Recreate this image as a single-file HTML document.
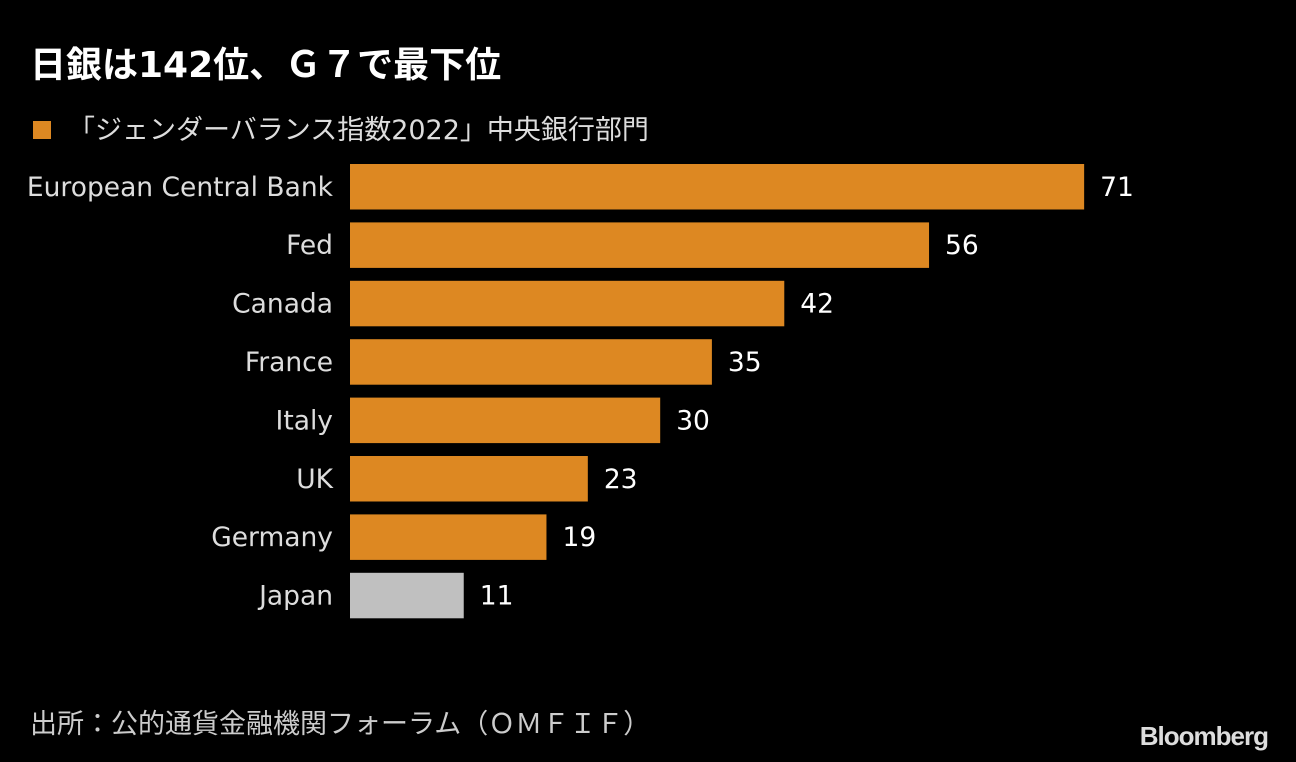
<!DOCTYPE html>
<html><head><meta charset="utf-8">
<style>
body{margin:0;background:#000;width:1296px;height:762px;overflow:hidden;font-family:"DejaVu Sans","Noto Sans CJK JP",sans-serif;}
#c{position:absolute;left:0;top:0;}
</style></head><body>
<svg id="c" width="1296" height="762">
<text x="30" y="77" fill="#fff" font-size="36" font-weight="bold" font-family="DejaVu Sans,Noto Sans CJK JP,sans-serif">日銀は142位、Ｇ７で最下位</text>
<rect x="33" y="121" width="18" height="18" fill="#DD8822"/>
<text x="68" y="139" fill="#ddd" font-size="27" font-family="DejaVu Sans,Noto Sans CJK JP,sans-serif">「ジェンダーバランス指数2022」中央銀行部門</text>
<g id="bars"></g>
<text x="30" y="733" fill="#ccc" font-size="27" font-family="DejaVu Sans,Noto Sans CJK JP,sans-serif">出所：公的通貨金融機関フォーラム（ＯＭＦＩＦ）</text>
<text x="1268" y="745" text-anchor="end" fill="#ddd" font-size="26" font-weight="bold" letter-spacing="-1" font-family="Liberation Sans,sans-serif">Bloomberg</text>
</svg>
<script>
const categories=["European Central Bank","Fed","Canada","France","Italy","UK","Germany","Japan"];
const values=[71,56,42,35,30,23,19,11];
const highlight=["Japan"];
const g=document.getElementById('bars');
const NS="http://www.w3.org/2000/svg";
const x0=350,scale=10.34,top0=164,pitch=58.4,bh=45.5;
function xw(v){return v*scale;}
function yb(i){return top0+i*pitch;}
categories.forEach((c,i)=>{
  const r=document.createElementNS(NS,'rect');
  r.setAttribute('x',x0);r.setAttribute('y',yb(i));
  r.setAttribute('width',xw(values[i]));r.setAttribute('height',bh);
  r.setAttribute('fill',highlight.includes(c)?'#C0C0C0':'#DD8822');
  
  
  g.appendChild(r);
  const l=document.createElementNS(NS,'text');
  l.setAttribute('x',333);l.setAttribute('y',yb(i)+bh/2+9);
  l.setAttribute('text-anchor','end');l.setAttribute('fill','#ddd');l.setAttribute('font-size','26.5');
  l.textContent=c;
  
  
  g.appendChild(l);
  const v=document.createElementNS(NS,'text');
  v.setAttribute('x',x0+xw(values[i])+16);v.setAttribute('y',yb(i)+bh/2+9);
  v.setAttribute('fill','#fff');v.setAttribute('font-size','26.5');
  v.textContent=values[i];
  
  
  g.appendChild(v);
});
</script>
</body></html>
